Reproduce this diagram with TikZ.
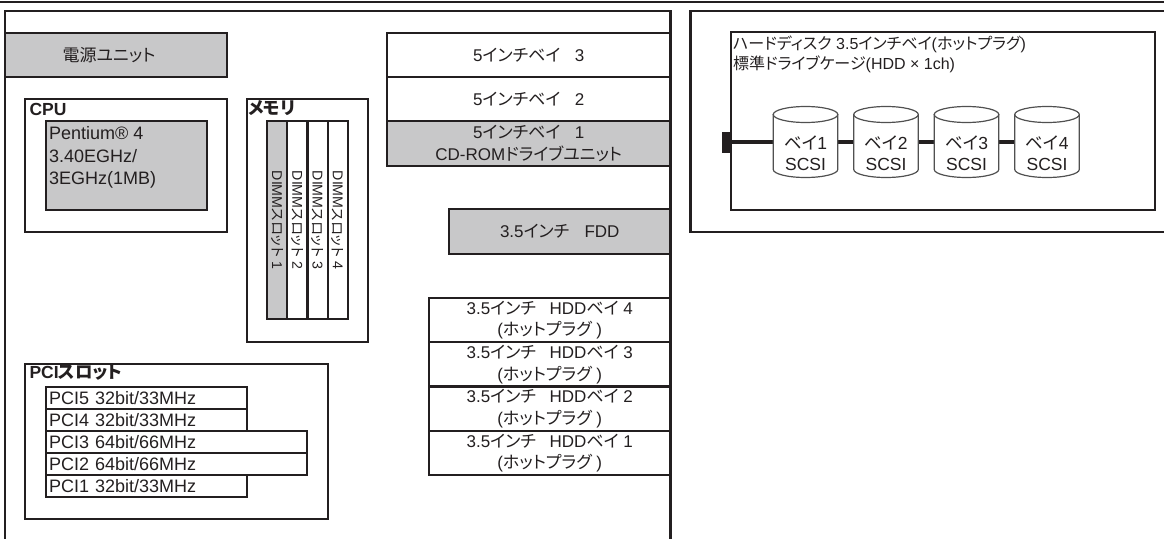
\documentclass[tikz,border=0pt]{standalone}
\usepackage{fontspec}
\setmainfont{Liberation Sans}
\newfontfamily\cjk[RawFeature=+palt]{Noto Sans CJK JP}
\newcommand\jp[1]{{\cjk #1}}
\usetikzlibrary{calc}
\definecolor{fillg}{RGB}{200,200,201}
\definecolor{ink}{RGB}{35,31,32}
\definecolor{cylline}{RGB}{80,80,80}
\begin{document}
\begin{tikzpicture}[x=1pt,y=-1pt,
  box/.style={draw=ink, line width=2.2pt, inner sep=0pt, outer sep=0pt, anchor=north west},
  gbox/.style={box, fill=fillg},
  txt/.style={inner sep=0pt, outer sep=0pt, text=ink, align=center, font=\fontsize{17}{21.5}\selectfont},
  tbox/.style={box, txt, anchor=north west, draw=ink, line width=2.2pt},
  lbl/.style={inner sep=0pt, outer sep=0pt, text=ink, anchor=base west, font=\fontsize{17.5}{20}\selectfont\bfseries},
  pcis/.style={box, minimum height=22pt, inner xsep=3pt, align=left, text=ink, font=\fontsize{18}{20}\selectfont},
  slot/.style={box, minimum width=20.25pt, minimum height=198pt},
  slottxt/.style={txt, rotate=-90, font=\fontsize{14.2}{18}\selectfont},
  cylnode/.style={inner sep=0pt, outer sep=0pt, minimum width=64.5pt, minimum height=71pt},
  cyl/.style={draw=cylline, line width=1.2pt, fill=white},
  cyltxt/.style={txt, font=\fontsize{17.5}{20.5}\selectfont},
  frame/.style={draw=ink, line width=2.2pt}
]
\useasboundingbox (0,0) rectangle (1164,538);
% top rule
\draw[ink, line width=1.5pt] (0,2) -- (1164,2);
% main chassis outline
\draw[frame] (5,545) -- (5,11) -- (670.5,11) -- (670.5,545);
% power unit
\node[gbox, minimum width=222pt, minimum height=44pt] (psu) at (5,33) {};
\node[txt] (psut) at (109,55) {\jp{電源ユニット}};
% CPU
\node[box, minimum width=202pt, minimum height=133pt] (cpu) at (25,99) {};
\node[lbl] (cpul) at (29.5,115) {CPU};
\node[gbox, minimum width=161pt, minimum height=89pt] (cpuin) at (46,121) {};
\node[txt, anchor=north west, align=left, font=\fontsize{18}{22.5}\selectfont] (cput) at (49,126.5) {Pentium® 4\\3.40EGHz/\\3EGHz(1MB)};
% memory
\node[box, minimum width=121pt, minimum height=243pt] (mem) at (247,99) {};
\node[lbl] (meml) at (248,114.5) {\jp{メモリ}};
\node[slot, fill=fillg] (s1) at (267,121) {};
\node[slot] (s2) at (287.25,121) {};
\node[slot] (s3) at (307.5,121) {};
\node[slot] (s4) at (327.75,121) {};
\node[slottxt] (s1t) at (s1.center) {DIMM\jp{スロット} 1};
\node[slottxt] (s2t) at (s2.center) {DIMM\jp{スロット} 2};
\node[slottxt] (s3t) at (s3.center) {DIMM\jp{スロット} 3};
\node[slottxt] (s4t) at (s4.center) {DIMM\jp{スロット} 4};
% 5 inch bays
\node[tbox, minimum width=283.5pt, minimum height=44pt] (b3) at (387,33) {5\jp{インチベイ}\hspace{0.85em}3};
\node[tbox, minimum width=283.5pt, minimum height=44pt] (b2) at (387,77) {5\jp{インチベイ}\hspace{0.85em}2};
\node[tbox, minimum width=283.5pt, minimum height=45pt, fill=fillg] (b1) at (387,121) {5\jp{インチベイ}\hspace{0.85em}1\\CD-ROM\jp{ドライブユニット}};
% FDD
\node[tbox, minimum width=221.5pt, minimum height=45pt, fill=fillg] (fdd) at (449,209) {3.5\jp{インチ}\hspace{0.9em}FDD};
% HDD bays
\node[tbox, minimum width=241.5pt, minimum height=44.25pt] (h4) at (429,298) {3.5\jp{インチ}\hspace{0.8em}HDD\jp{ベイ} 4\\(\jp{ホットプラグ} )};
\node[tbox, minimum width=241.5pt, minimum height=44.25pt] (h3) at (429,342.25) {3.5\jp{インチ}\hspace{0.8em}HDD\jp{ベイ} 3\\(\jp{ホットプラグ} )};
\node[tbox, minimum width=241.5pt, minimum height=44.25pt] (h2) at (429,386.5) {3.5\jp{インチ}\hspace{0.8em}HDD\jp{ベイ} 2\\(\jp{ホットプラグ} )};
\node[tbox, minimum width=241.5pt, minimum height=44.25pt] (h1) at (429,430.75) {3.5\jp{インチ}\hspace{0.8em}HDD\jp{ベイ} 1\\(\jp{ホットプラグ} )};
% PCI
\node[box, minimum width=303pt, minimum height=155pt] (pci) at (25,364) {};
\node[lbl] (pcil) at (29.5,378) {PCI\jp{スロット}};
\node[pcis, text width=195pt] (p5) at (46,387) {PCI5 32bit/33MHz};
\node[pcis, text width=195pt] (p4) at (46,409) {PCI4 32bit/33MHz};
\node[pcis, text width=255pt] (p3) at (46,431) {PCI3 64bit/66MHz};
\node[pcis, text width=255pt] (p2) at (46,453) {PCI2 64bit/66MHz};
\node[pcis, text width=195pt] (p1) at (46,475) {PCI1 32bit/33MHz};
% right enclosure
\draw[frame] (1170,11) -- (690.5,11) -- (690.5,232) -- (1170,232);
\node[box, minimum width=424pt, minimum height=178pt] (cage) at (731,32) {};
\node[txt, anchor=base west, align=left, font=\fontsize{16}{20}\selectfont] (cage1) at (733,49) {\jp{ハードディスク} 3.5\jp{インチベイ}(\jp{ホットプラグ})};
\node[txt, anchor=base west, align=left, font=\fontsize{16}{20}\selectfont] (cage2) at (733,69.5) {\jp{標準ドライブケージ}(HDD × 1ch)};
\node[inner sep=0pt, outer sep=0pt, fill=ink, minimum width=8pt, minimum height=21pt, anchor=north west] (port) at (722,131.5) {};
\node[cylnode] (c1) at (805.5,142) {};
\node[cylnode] (c2) at (886,142) {};
\node[cylnode] (c3) at (966.5,142) {};
\node[cylnode] (c4) at (1047,142) {};
\draw[ink, line width=4pt] (port.east) -- (c1.west);
\draw[ink, line width=4pt] (c1.east) -- (c2.west);
\draw[ink, line width=4pt] (c2.east) -- (c3.west);
\draw[ink, line width=4pt] (c3.east) -- (c4.west);
\foreach \c in {c1,c2,c3,c4}{
  \draw[cyl] ($(\c.north west)+(0,8)$) -- ($(\c.south west)+(0,-8)$)
     arc[start angle=180, end angle=360, x radius=32.25pt, y radius=8pt]
     -- ($(\c.north east)+(0,8)$) -- cycle;
  \draw[cyl] ($(\c.north)+(0,8)$) ellipse[x radius=32.25pt, y radius=8pt];
}
\node[cyltxt] (c1t) at ($(c1.center)+(0,11)$) {\jp{ベイ}1\\SCSI};
\node[cyltxt] (c2t) at ($(c2.center)+(0,11)$) {\jp{ベイ}2\\SCSI};
\node[cyltxt] (c3t) at ($(c3.center)+(0,11)$) {\jp{ベイ}3\\SCSI};
\node[cyltxt] (c4t) at ($(c4.center)+(0,11)$) {\jp{ベイ}4\\SCSI};
\end{tikzpicture}
\end{document}
